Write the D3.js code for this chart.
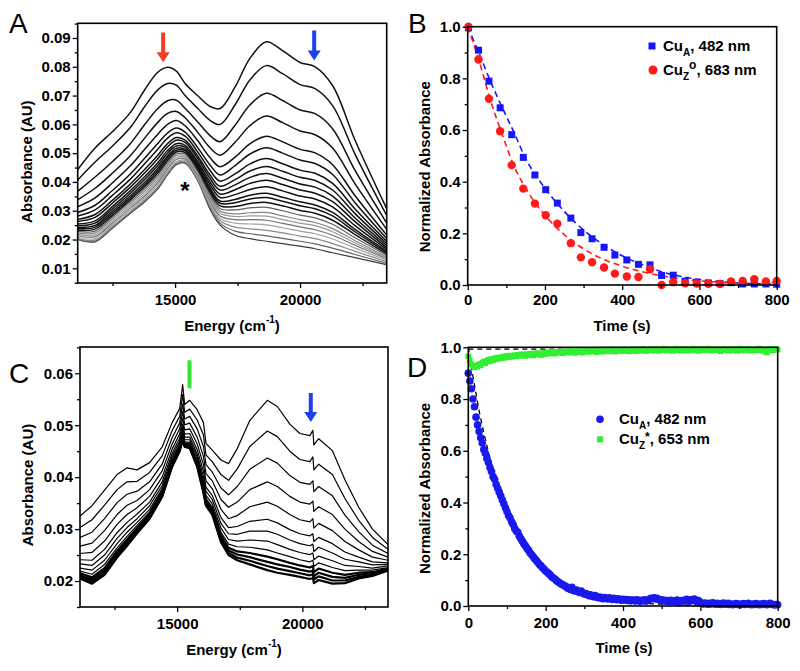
<!DOCTYPE html>
<html><head><meta charset="utf-8">
<script src="https://cdn.jsdelivr.net/npm/d3@7"></script>
<style>body{margin:0;background:#fff} text{font-family:"Liberation Sans",Arial,sans-serif}</style>
</head><body><svg id="c" width="800" height="671"></svg>
<script>
// ---------- DATA ----------
const energiesA = [11100,11800,12500,13200,13800,14300,14700,15050,15400,15900,16400,16800,17400,18000,18650,19300,20000,20600,21300,22200,23450];
const spectraA = [
[0.0442,0.0518,0.0575,0.0640,0.0722,0.0780,0.0798,0.0785,0.0742,0.0700,0.0662,0.0655,0.0730,0.0830,0.0887,0.0856,0.0815,0.0800,0.0735,0.0545,0.0310],
[0.0406,0.0469,0.0525,0.0588,0.0664,0.0719,0.0742,0.0736,0.0700,0.0656,0.0614,0.0600,0.0668,0.0755,0.0804,0.0776,0.0738,0.0724,0.0665,0.0496,0.0286],
[0.0367,0.0417,0.0471,0.0532,0.0601,0.0654,0.0682,0.0684,0.0656,0.0609,0.0561,0.0540,0.0597,0.0668,0.0708,0.0683,0.0650,0.0637,0.0585,0.0440,0.0259],
[0.0338,0.0378,0.0431,0.0490,0.0554,0.0606,0.0638,0.0645,0.0623,0.0573,0.0519,0.0493,0.0538,0.0596,0.0629,0.0606,0.0577,0.0564,0.0518,0.0393,0.0237],
[0.0314,0.0345,0.0397,0.0455,0.0515,0.0565,0.0600,0.0613,0.0595,0.0544,0.0484,0.0453,0.0486,0.0533,0.0559,0.0539,0.0513,0.0501,0.0460,0.0352,0.0217],
[0.0294,0.0319,0.0371,0.0427,0.0484,0.0533,0.0570,0.0587,0.0573,0.0520,0.0459,0.0424,0.0457,0.0497,0.0519,0.0500,0.0476,0.0464,0.0426,0.0328,0.0205],
[0.0282,0.0303,0.0354,0.0409,0.0465,0.0513,0.0552,0.0571,0.0559,0.0505,0.0440,0.0403,0.0428,0.0463,0.0481,0.0463,0.0441,0.0430,0.0395,0.0306,0.0195],
[0.0270,0.0287,0.0337,0.0392,0.0445,0.0492,0.0533,0.0554,0.0545,0.0491,0.0424,0.0385,0.0408,0.0438,0.0454,0.0437,0.0416,0.0405,0.0372,0.0290,0.0187],
[0.0263,0.0277,0.0327,0.0381,0.0433,0.0480,0.0522,0.0545,0.0537,0.0482,0.0412,0.0372,0.0390,0.0416,0.0429,0.0413,0.0393,0.0382,0.0351,0.0275,0.0180],
[0.0254,0.0265,0.0315,0.0369,0.0420,0.0466,0.0509,0.0533,0.0527,0.0471,0.0400,0.0358,0.0373,0.0395,0.0406,0.0391,0.0372,0.0361,0.0332,0.0262,0.0173],
[0.0248,0.0257,0.0307,0.0360,0.0410,0.0456,0.0500,0.0525,0.0520,0.0464,0.0390,0.0346,0.0356,0.0374,0.0383,0.0369,0.0351,0.0341,0.0313,0.0248,0.0167],
[0.0242,0.0249,0.0299,0.0351,0.0400,0.0446,0.0490,0.0517,0.0513,0.0457,0.0379,0.0334,0.0339,0.0354,0.0361,0.0347,0.0331,0.0320,0.0294,0.0235,0.0160],
[0.0238,0.0243,0.0292,0.0344,0.0392,0.0438,0.0483,0.0510,0.0508,0.0451,0.0372,0.0326,0.0328,0.0341,0.0346,0.0333,0.0317,0.0307,0.0282,0.0227,0.0156],
[0.0233,0.0236,0.0285,0.0337,0.0385,0.0430,0.0475,0.0504,0.0502,0.0445,0.0364,0.0317,0.0315,0.0325,0.0329,0.0317,0.0301,0.0291,0.0267,0.0217,0.0151],
[0.0228,0.0229,0.0279,0.0330,0.0377,0.0422,0.0468,0.0497,0.0497,0.0439,0.0356,0.0308,0.0303,0.0310,0.0312,0.0300,0.0285,0.0275,0.0253,0.0206,0.0146],
[0.0223,0.0223,0.0272,0.0323,0.0369,0.0413,0.0460,0.0491,0.0491,0.0433,0.0348,0.0299,0.0289,0.0293,0.0294,0.0282,0.0269,0.0259,0.0238,0.0196,0.0141],
[0.0218,0.0216,0.0265,0.0316,0.0361,0.0405,0.0453,0.0484,0.0486,0.0427,0.0341,0.0291,0.0280,0.0282,0.0281,0.0270,0.0257,0.0248,0.0227,0.0188,0.0138],
[0.0213,0.0210,0.0258,0.0309,0.0353,0.0397,0.0446,0.0478,0.0480,0.0421,0.0334,0.0282,0.0269,0.0269,0.0267,0.0256,0.0244,0.0234,0.0215,0.0180,0.0134],
[0.0208,0.0203,0.0252,0.0302,0.0346,0.0389,0.0438,0.0471,0.0475,0.0415,0.0326,0.0273,0.0257,0.0254,0.0251,0.0241,0.0229,0.0220,0.0202,0.0170,0.0129],
[0.0204,0.0198,0.0246,0.0296,0.0339,0.0382,0.0432,0.0466,0.0470,0.0410,0.0318,0.0265,0.0243,0.0237,0.0232,0.0223,0.0212,0.0203,0.0186,0.0159,0.0124],
[0.0201,0.0194,0.0242,0.0292,0.0334,0.0377,0.0427,0.0462,0.0467,0.0407,0.0311,0.0257,0.0229,0.0220,0.0213,0.0204,0.0194,0.0185,0.0170,0.0148,0.0118],
[0.0200,0.0192,0.0240,0.0290,0.0332,0.0375,0.0425,0.0460,0.0465,0.0405,0.0305,0.0250,0.0215,0.0203,0.0194,0.0186,0.0177,0.0168,0.0154,0.0137,0.0113]
];
const arrowsA = [[14524,0.0919,0.0816],[20564,0.0926,0.0822]]; // [energy, top, tip]
const starA = [15390, 0.0389];

const energiesC = [11120,11600,12100,12600,13000,13400,13900,14400,14800,15100,15220,15300,15500,15800,16050,16150,16400,16750,17050,17400,17900,18600,19000,19500,19900,20300,20420,20460,20650,21200,21700,22250,22800,23420];
const spectraC = [
[0.0325,0.0345,0.0375,0.0405,0.0418,0.0414,0.0428,0.0458,0.0505,0.0532,0.0578,0.0540,0.0548,0.0530,0.0505,0.0465,0.0452,0.0433,0.0426,0.0455,0.0509,0.0548,0.0536,0.0502,0.0484,0.0480,0.0490,0.0462,0.0474,0.0451,0.0395,0.0342,0.0300,0.0270],
[0.0303,0.0318,0.0346,0.0376,0.0391,0.0392,0.0409,0.0441,0.0490,0.0517,0.0559,0.0525,0.0531,0.0510,0.0481,0.0443,0.0430,0.0405,0.0394,0.0416,0.0459,0.0489,0.0478,0.0450,0.0434,0.0430,0.0439,0.0414,0.0425,0.0405,0.0359,0.0317,0.0284,0.0261],
[0.0284,0.0294,0.0320,0.0351,0.0367,0.0373,0.0391,0.0425,0.0476,0.0504,0.0541,0.0512,0.0517,0.0493,0.0459,0.0424,0.0410,0.0379,0.0366,0.0382,0.0415,0.0437,0.0427,0.0403,0.0390,0.0386,0.0393,0.0372,0.0382,0.0364,0.0327,0.0295,0.0269,0.0253],
[0.0267,0.0273,0.0297,0.0328,0.0346,0.0355,0.0376,0.0412,0.0464,0.0493,0.0526,0.0501,0.0504,0.0477,0.0440,0.0407,0.0393,0.0357,0.0342,0.0352,0.0376,0.0391,0.0382,0.0363,0.0352,0.0348,0.0354,0.0334,0.0343,0.0328,0.0300,0.0276,0.0257,0.0246],
[0.0253,0.0255,0.0277,0.0309,0.0328,0.0341,0.0363,0.0400,0.0454,0.0483,0.0513,0.0491,0.0493,0.0464,0.0424,0.0393,0.0378,0.0338,0.0320,0.0326,0.0343,0.0352,0.0344,0.0328,0.0318,0.0314,0.0320,0.0302,0.0311,0.0297,0.0276,0.0260,0.0246,0.0240],
[0.0241,0.0240,0.0261,0.0293,0.0313,0.0329,0.0352,0.0391,0.0446,0.0475,0.0502,0.0483,0.0484,0.0453,0.0411,0.0381,0.0365,0.0322,0.0303,0.0305,0.0315,0.0319,0.0312,0.0299,0.0291,0.0287,0.0291,0.0276,0.0284,0.0272,0.0256,0.0246,0.0237,0.0235],
[0.0233,0.0230,0.0250,0.0282,0.0303,0.0320,0.0345,0.0384,0.0440,0.0469,0.0495,0.0477,0.0477,0.0445,0.0401,0.0373,0.0357,0.0311,0.0291,0.0290,0.0296,0.0296,0.0290,0.0279,0.0272,0.0268,0.0271,0.0257,0.0265,0.0254,0.0242,0.0237,0.0231,0.0232],
[0.0225,0.0221,0.0240,0.0272,0.0294,0.0313,0.0338,0.0378,0.0435,0.0464,0.0488,0.0472,0.0472,0.0439,0.0393,0.0365,0.0349,0.0302,0.0280,0.0277,0.0279,0.0277,0.0270,0.0261,0.0255,0.0251,0.0254,0.0241,0.0248,0.0239,0.0230,0.0228,0.0225,0.0229],
[0.0219,0.0213,0.0232,0.0264,0.0286,0.0307,0.0333,0.0374,0.0430,0.0460,0.0483,0.0468,0.0467,0.0433,0.0386,0.0359,0.0343,0.0294,0.0271,0.0266,0.0265,0.0260,0.0254,0.0247,0.0241,0.0237,0.0240,0.0228,0.0235,0.0226,0.0220,0.0221,0.0221,0.0226],
[0.0215,0.0207,0.0225,0.0258,0.0280,0.0302,0.0329,0.0370,0.0427,0.0457,0.0479,0.0465,0.0463,0.0429,0.0381,0.0355,0.0338,0.0288,0.0264,0.0257,0.0254,0.0247,0.0242,0.0235,0.0230,0.0226,0.0229,0.0217,0.0224,0.0216,0.0212,0.0216,0.0217,0.0224],
[0.0211,0.0203,0.0220,0.0253,0.0276,0.0298,0.0325,0.0367,0.0424,0.0454,0.0475,0.0462,0.0461,0.0426,0.0377,0.0351,0.0334,0.0283,0.0259,0.0251,0.0246,0.0237,0.0232,0.0227,0.0222,0.0218,0.0220,0.0209,0.0216,0.0208,0.0206,0.0212,0.0215,0.0223],
[0.0208,0.0199,0.0216,0.0249,0.0272,0.0295,0.0323,0.0364,0.0422,0.0452,0.0473,0.0460,0.0458,0.0423,0.0373,0.0348,0.0331,0.0279,0.0254,0.0245,0.0239,0.0229,0.0224,0.0219,0.0215,0.0211,0.0213,0.0203,0.0209,0.0201,0.0201,0.0208,0.0212,0.0221],
[0.0205,0.0195,0.0212,0.0245,0.0268,0.0292,0.0320,0.0362,0.0420,0.0450,0.0470,0.0458,0.0456,0.0420,0.0370,0.0345,0.0328,0.0275,0.0250,0.0240,0.0232,0.0221,0.0216,0.0212,0.0208,0.0204,0.0206,0.0196,0.0202,0.0195,0.0196,0.0205,0.0210,0.0220]
];
const barC = [15493, 0.0625, 0.0571];
const arrowC = [20336, 0.0562, 0.0506];

const timesB = [2,28,55,84,114,144,174,202,232,267,293,322,353,381,412,442,472,502,532,563,593,623,653,682,712,742,772,800];
const cuA_B = [0.996,0.909,0.789,0.686,0.582,0.494,0.426,0.369,0.317,0.259,0.203,0.179,0.146,0.116,0.097,0.080,0.078,0.037,0.038,0.015,0.011,0.008,0.006,0.009,0.004,0.004,0.004,0.003];
const cuZ_B = [1.0,0.873,0.721,0.595,0.464,0.373,0.315,0.270,0.237,0.162,0.107,0.088,0.068,0.044,0.033,0.031,0.061,0.0,0.011,0.007,0.006,0.005,0.004,0.014,0.016,0.022,0.014,0.016];
const fitTimesB = [0,30,60,90,120,150,200,250,300,350,400,450,500,550,600,650,700,750,800];
const fitA_B = [1.0,0.895,0.785,0.685,0.59,0.49,0.375,0.285,0.213,0.157,0.113,0.08,0.052,0.034,0.021,0.013,0.008,0.005,0.003];
const fitZ_B = [1.0,0.865,0.71,0.58,0.46,0.375,0.27,0.195,0.14,0.10,0.073,0.052,0.036,0.024,0.016,0.011,0.008,0.008,0.010];

const timesD = d3.range(0, 801, 4);
const cuA_D = [
0.90,0.87,0.84,0.80,0.77,0.73,0.70,0.675,0.65,0.63,
0.605,0.59,0.57,0.555,0.535,0.52,0.50,0.49,0.47,0.455,
0.44,0.425,0.41,0.395,0.38,0.365,0.35,0.34,0.325,0.315,
0.30,0.29,0.285,0.27,0.26,0.25,0.24,0.232,0.222,0.215,
0.205,0.198,0.19,0.182,0.176,0.168,0.16,0.155,0.148,0.142,
0.135,0.13,0.125,0.12,0.112,0.108,0.104,0.098,0.094,0.09,
0.085,0.083,0.078,0.076,0.07,0.068,0.064,0.072,0.06,0.058,
0.062,0.055,0.052,0.058,0.05,0.046,0.048,0.044,0.04,0.043,
0.038,0.036,0.04,0.034,0.032,0.035,0.03,0.028,0.033,0.03,
0.027,0.032,0.029,0.025,0.03,0.027,0.024,0.028,0.025,0.022,
0.026,0.023,0.025,0.021,0.024,0.02,0.023,0.022,0.019,0.024,
0.021,0.018,0.022,0.02,0.024,0.019,0.021,0.026,0.03,0.028,
0.032,0.027,0.03,0.025,0.022,0.024,0.02,0.022,0.018,0.021,
0.019,0.022,0.017,0.02,0.018,0.023,0.016,0.019,0.021,0.018,
0.022,0.026,0.02,0.018,0.024,0.021,0.027,0.019,0.022,0.02,
0.012,0.01,0.008,0.011,0.009,0.007,0.01,0.008,0.012,0.009,
0.007,0.01,0.008,0.006,0.009,0.011,0.007,0.008,0.01,0.006,
0.008,0.005,0.007,0.009,0.006,0.008,0.005,0.007,0.009,0.006,
0.008,0.01,0.007,0.005,0.008,0.006,0.009,0.007,0.005,0.008,
0.006,0.009,0.007,0.005,0.008,0.01,0.007,0.006,0.004,0.006,
0.005];
const cuZ_D = [
0.965,0.95,0.935,0.928,0.922,0.93,0.925,0.935,0.93,0.94,
0.945,0.938,0.948,0.952,0.945,0.955,0.95,0.958,0.953,0.96,
0.956,0.962,0.958,0.965,0.96,0.966,0.962,0.968,0.963,0.967,
0.97,0.965,0.971,0.967,0.973,0.968,0.972,0.966,0.974,0.97,
0.975,0.971,0.968,0.976,0.972,0.978,0.974,0.97,0.977,0.973,
0.979,0.975,0.981,0.977,0.983,0.978,0.975,0.982,0.979,0.984,
0.98,0.977,0.984,0.981,0.986,0.979,0.983,0.987,0.982,0.978,
0.985,0.981,0.988,0.983,0.979,0.986,0.984,0.989,0.982,0.987,
0.984,0.99,0.985,0.981,0.988,0.986,0.991,0.983,0.987,0.985,
0.99,0.984,0.988,0.992,0.986,0.983,0.989,0.987,0.991,0.985,
0.988,0.992,0.986,0.99,0.984,0.989,0.993,0.987,0.985,0.99,
0.992,0.986,0.989,0.994,0.988,0.985,0.991,0.989,0.993,0.987,
0.99,0.994,0.988,0.986,0.992,0.989,0.995,0.99,0.987,0.993,
0.989,0.992,0.986,0.991,0.995,0.988,0.99,0.993,0.987,0.991,
0.994,0.989,0.987,0.992,0.99,0.995,0.988,0.991,0.993,0.986,
0.99,0.994,0.988,0.992,0.989,0.995,0.991,0.987,0.993,0.99,
0.988,0.993,0.99,0.985,0.991,0.994,0.989,0.992,0.987,0.991,
0.994,0.988,0.99,0.993,0.986,0.991,0.995,0.989,0.992,0.988,
0.991,0.994,0.987,0.99,0.993,0.988,0.992,0.989,0.995,0.99,
0.987,0.992,0.983,0.98,0.99,0.994,0.988,0.991,0.993,0.989,
0.992];
const fitTimesD = [0,10,20,30,40,50,60,80,100,120,140,160,180,200,240,280,320,360,400,450,500,600,700,800];
const fitA_D = [1.0,0.905,0.82,0.74,0.67,0.607,0.549,0.449,0.368,0.301,0.247,0.202,0.165,0.135,0.091,0.061,0.041,0.027,0.018,0.011,0.007,0.002,0.001,0.0];
const fitZTimesD = [0,200,400,600,800];
const fitZ_D = [0.993,0.993,0.993,0.993,0.993];

const ticksEnergy = [15000,20000], minorEnergy = [12500,17500,22500];
const ticksA_y = [0.01,0.02,0.03,0.04,0.05,0.06,0.07,0.08,0.09];
const minorA_y = [0.005,0.015,0.025,0.035,0.045,0.055,0.065,0.075,0.085,0.095];
const ticksC_y = [0.02,0.03,0.04,0.05,0.06];
const minorC_y = [0.015,0.025,0.035,0.045,0.055,0.065];
const ticksNorm = [0,0.2,0.4,0.6,0.8,1.0], minorNorm = [0.1,0.3,0.5,0.7,0.9];
const ticksTime = [0,200,400,600,800], minorTime = [100,300,500,700];

// ---------- DRAW ----------
const svg = d3.select('#c');
const FONT = '"Liberation Sans",Arial,sans-serif';
let clipId = 0;

function axes(x, y, o) {
  const [x0, x1] = x.range(), [yb, yt] = y.range();
  const style = g => {
    g.select('.domain').remove();
    g.selectAll('line').attr('stroke', '#000').attr('stroke-width', 1.3);
    g.selectAll('text').attr('font-family', FONT).attr('font-size', 15).attr('font-weight', 'bold').attr('fill', '#000');
  };
  svg.append('g').attr('transform', `translate(0,${yb})`)
    .call(d3.axisBottom(x).tickValues(o.xMajor).tickSize(5).tickPadding(o.xPad).tickFormat(o.xFmt)).call(style);
  svg.append('g').attr('transform', `translate(0,${yb})`)
    .call(d3.axisBottom(x).tickValues(o.xMinor).tickSize(3).tickFormat('')).call(style);
  svg.append('g').attr('transform', `translate(${x0},0)`)
    .call(d3.axisLeft(y).tickValues(o.yMajor).tickSize(5).tickPadding(2).tickFormat(o.yFmt)).call(style);
  svg.append('g').attr('transform', `translate(${x0},0)`)
    .call(d3.axisLeft(y).tickValues(o.yMinor).tickSize(3).tickFormat('')).call(style);
  svg.append('rect').attr('x', x0).attr('y', yt).attr('width', x1 - x0).attr('height', yb - yt)
    .attr('fill', 'none').attr('stroke', '#000').attr('stroke-width', 1.6);
}
function clipGroup(x, y) {
  const id = 'clip' + (clipId++);
  const [x0, x1] = x.range(), [yb, yt] = y.range();
  svg.append('clipPath').attr('id', id).append('rect').attr('x', x0).attr('y', yt).attr('width', x1 - x0).attr('height', yb - yt);
  return svg.append('g').attr('clip-path', `url(#${id})`);
}
function yTitle(xpos, ypos, txt) {
  svg.append('text').attr('transform', `translate(${xpos},${ypos}) rotate(-90)`).attr('text-anchor', 'middle')
    .attr('font-size', 15).attr('font-weight', 'bold').text(txt);
}
function energyTitle(xpos, ypos) {
  const t = svg.append('text').attr('x', xpos).attr('y', ypos).attr('text-anchor', 'middle')
    .attr('font-size', 15).attr('font-weight', 'bold');
  t.append('tspan').text('Energy (cm');
  t.append('tspan').attr('font-size', 10).attr('dy', -8).text('-1');
  t.append('tspan').attr('dy', 8).text(')');
}
function timeTitle(xpos, ypos) {
  svg.append('text').attr('x', xpos).attr('y', ypos).attr('text-anchor', 'middle')
    .attr('font-size', 15).attr('font-weight', 'bold').text('Time (s)');
}
function letter(xpos, ypos, l) {
  svg.append('text').attr('x', xpos).attr('y', ypos).attr('font-size', 28).text(l);
}
function arrow(g, cx, yTop, yTip, color) {
  const sw = 2, hw = 6.5, hl = 10;
  g.append('path').attr('fill', color)
    .attr('d', `M${cx - sw},${yTop}L${cx + sw},${yTop}L${cx + sw},${yTip - hl}L${cx + hw},${yTip - hl}L${cx},${yTip}L${cx - hw},${yTip - hl}L${cx - sw},${yTip - hl}Z`);
}
function legendText(xpos, ypos, sub, sup, supDy, rest) {
  const t = svg.append('text').attr('x', xpos).attr('y', ypos).attr('font-size', 15).attr('font-weight', 'bold');
  t.append('tspan').text('Cu');
  t.append('tspan').attr('font-size', 10).attr('dy', 5).text(sub);
  if (sup) {
    t.append('tspan').attr('font-size', 12).attr('dy', supDy).text(sup);
    t.append('tspan').attr('dy', -5 - supDy).text(rest);
  } else {
    t.append('tspan').attr('dy', -5).text(rest);
  }
}

// ---- Panel A ----
const xA = d3.scaleLinear().domain([11105, 23465]).range([77.7, 386.7]);
const yA = d3.scaleLinear().domain([0.0049, 0.0951]).range([283, 23.3]);
{
  const g = clipGroup(xA, yA);
  const colorsA = ['#111','#111','#111','#111','#111','#111','#111','#111','#111','#111','#111','#111','#111','#111',
                   '#5e5e5e','#858585','#999','#707070','#a2a2a2','#8a8a8a','#626262','#3c3c3c'];
  const line = d3.line().x((d, i) => xA(energiesA[i])).y(d => yA(d)).curve(d3.curveCatmullRom.alpha(0.5));
  for (let i = spectraA.length - 1; i >= 0; i--) {
    g.append('path').attr('d', line(spectraA[i])).attr('fill', 'none')
      .attr('stroke', colorsA[i]).attr('stroke-width', i < 14 ? 1.5 : 1.2);
  }
  arrow(svg, xA(arrowsA[0][0]), yA(arrowsA[0][1]), yA(arrowsA[0][2]), '#f0401f');
  arrow(svg, xA(arrowsA[1][0]), yA(arrowsA[1][1]), yA(arrowsA[1][2]), '#1c43ea');
  svg.append('text').attr('x', xA(starA[0])).attr('y', yA(starA[1])).attr('dy', 14).attr('text-anchor', 'middle')
    .attr('font-size', 24).attr('font-weight', 'bold').text('*');
  axes(xA, yA, {xMajor: ticksEnergy, xMinor: minorEnergy, yMajor: ticksA_y, yMinor: minorA_y,
    xFmt: d3.format('d'), yFmt: d3.format('.2f'), xPad: 6});
  yTitle(31.5, 161.7, 'Absorbance (AU)');
  energyTitle(232, 331);
  letter(9, 33, 'A');
}

// ---- Panel B ----
const xB = d3.scaleLinear().domain([0, 800]).range([467.7, 776.7]);
const yB = d3.scaleLinear().domain([0, 1]).range([285, 26.7]);
{
  const g = clipGroup(xB, yB);
  const line = (t) => d3.line().x((d, i) => xB(t[i])).y(d => yB(d)).curve(d3.curveMonotoneX);
  g.append('path').attr('d', line(fitTimesB)(fitA_B)).attr('fill', 'none').attr('stroke', '#1515ff')
    .attr('stroke-width', 1.6).attr('stroke-dasharray', '6,4');
  g.append('path').attr('d', line(fitTimesB)(fitZ_B)).attr('fill', 'none').attr('stroke', '#ff1a1a')
    .attr('stroke-width', 1.6).attr('stroke-dasharray', '6,4');
  const gm = svg.append('g');
  gm.selectAll('rect').data(cuA_B).join('rect')
    .attr('x', (d, i) => xB(timesB[i]) - 3.5).attr('y', d => yB(d) - 3.5).attr('width', 7).attr('height', 7).attr('fill', '#1515ff');
  gm.selectAll('circle').data(cuZ_B).join('circle')
    .attr('cx', (d, i) => xB(timesB[i])).attr('cy', d => yB(d)).attr('r', 4.2).attr('fill', '#ff1a1a');
  axes(xB, yB, {xMajor: ticksTime, xMinor: minorTime, yMajor: ticksNorm, yMinor: minorNorm,
    xFmt: d3.format('d'), yFmt: d3.format('.1f'), xPad: 4.5});
  svg.append('rect').attr('x', 648.5).attr('y', 42.5).attr('width', 7).attr('height', 7).attr('fill', '#1515ff');
  legendText(663, 51, 'A', null, 0, ', 482 nm');
  svg.append('circle').attr('cx', 653).attr('cy', 70).attr('r', 4.5).attr('fill', '#ff1a1a');
  legendText(663, 75, 'Z', 'o', -11, ', 683 nm');
  yTitle(430, 166.7, 'Normalized Absorbance');
  timeTitle(622, 331);
  letter(408, 33, 'B');
}

// ---- Panel C ----
const xC = d3.scaleLinear().domain([11120, 23420]).range([80, 388]);
const yC = d3.scaleLinear().domain([0.015, 0.06506]).range([607, 347]);
{
  const g = clipGroup(xC, yC);
  const line = d3.line().x((d, i) => xC(energiesC[i])).y(d => yC(d));
  spectraC.forEach((s, i) => {
    g.append('path').attr('d', line(s)).attr('fill', 'none').attr('stroke', '#000')
      .attr('stroke-width', i >= 9 ? 2.2 : 1.2).attr('stroke-linejoin', 'round');
  });
  svg.append('line').attr('x1', xC(barC[0])).attr('x2', xC(barC[0])).attr('y1', yC(barC[1])).attr('y2', yC(barC[2]))
    .attr('stroke', '#33e633').attr('stroke-width', 4);
  arrow(svg, xC(arrowC[0]), yC(arrowC[1]), yC(arrowC[2]), '#1c43ea');
  axes(xC, yC, {xMajor: ticksEnergy, xMinor: minorEnergy, yMajor: ticksC_y, yMinor: minorC_y,
    xFmt: d3.format('d'), yFmt: d3.format('.2f'), xPad: 6});
  yTitle(33, 485, 'Absorbance (AU)');
  energyTitle(234, 655);
  letter(9, 383, 'C');
}

// ---- Panel D ----
const xD = d3.scaleLinear().domain([0, 800]).range([468.3, 777.7]);
const yD = d3.scaleLinear().domain([0, 1]).range([606, 347.3]);
{
  const g = clipGroup(xD, yD);
  const gm = svg.append('g');
  gm.selectAll('rect').data(cuZ_D).join('rect')
    .attr('x', (d, i) => xD(timesD[i]) - 2.8).attr('y', d => yD(d) - 2.8).attr('width', 5.6).attr('height', 5.6).attr('fill', '#33ee33');
  gm.selectAll('circle').data(cuA_D).join('circle')
    .attr('cx', (d, i) => xD(timesD[i])).attr('cy', d => yD(d)).attr('r', 3.8).attr('fill', '#1a1aee');
  const line = (t) => d3.line().x((d, i) => xD(t[i])).y(d => yD(d)).curve(d3.curveMonotoneX);
  g.append('path').attr('d', line(fitTimesD)(fitA_D)).attr('fill', 'none').attr('stroke', '#000')
    .attr('stroke-width', 1.3).attr('stroke-dasharray', '5,4');
  g.append('path').attr('d', line(fitZTimesD)(fitZ_D)).attr('fill', 'none').attr('stroke', '#000')
    .attr('stroke-width', 1.3).attr('stroke-dasharray', '5,4');
  axes(xD, yD, {xMajor: ticksTime, xMinor: minorTime, yMajor: ticksNorm, yMinor: minorNorm,
    xFmt: d3.format('d'), yFmt: d3.format('.1f'), xPad: 6});
  svg.append('circle').attr('cx', 600).attr('cy', 419.3).attr('r', 3.8).attr('fill', '#1a1aee');
  legendText(619, 424, 'A', null, 0, ', 482 nm');
  svg.append('rect').attr('x', 597).attr('y', 436.3).attr('width', 6).attr('height', 6).attr('fill', '#33ee33');
  legendText(619, 444, 'Z', '*', -8, ', 653 nm');
  yTitle(430, 488.5, 'Normalized Absorbance');
  timeTitle(624, 653);
  letter(407, 377, 'D');
}
</script></body></html>
